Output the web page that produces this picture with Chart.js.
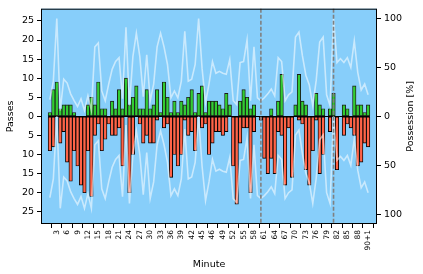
<!DOCTYPE html>
<html>
<head>
<meta charset="utf-8">
<script src="https://cdn.jsdelivr.net/npm/chart.js@4.4.0/dist/chart.umd.min.js"></script>
<style>
  html, body { margin: 0; padding: 0; background: #fff; }
  #wrap { width: 423px; height: 274px; }
</style>
</head>
<body>
<div id="wrap"><canvas id="passChart" width="423" height="274"></canvas></div>
<script>
// Minute labels (first half stoppage 45+1, 45+2; second half stoppage 90+1)
const minutes = [
    "1", "2", "3", "4", "5", "6", "7", "8", "9", "10", "11", "12", "13", "14", "15",
    "16", "17", "18", "19", "20", "21", "22", "23", "24", "25", "26", "27", "28", "29", "30",
    "31", "32", "33", "34", "35", "36", "37", "38", "39", "40", "41", "42", "43", "44", "45",
    "45+1", "45+2",
    "46", "47", "48", "49", "50", "51", "52", "53", "54", "55", "56", "57", "58", "59", "60",
    "61", "62", "63", "64", "65", "66", "67", "68", "69", "70", "71", "72", "73", "74", "75",
    "76", "77", "78", "79", "80", "81", "82", "83", "84", "85", "86", "87", "88", "89", "90",
    "90+1"
];
const tickLabels = ["3", "6", "9", "12", "15", "18", "21", "24", "27", "30", "33", "36", "39", "42", "45",
    "46", "49", "52", "55", "58", "61", "64", "67", "70", "73", "76", "79", "82", "85", "88", "90+1"];

// Passes per minute, home team (green, up)
const homePasses = [
    1, 7, 9, 2, 3, 3, 3, 1, 0, 0, 0, 3, 5, 3, 9, 2, 2, 0, 4, 2,
    7, 2, 10, 3, 5, 8, 2, 2, 7, 2, 3, 7, 1, 9, 5, 1, 4, 1, 4, 3,
    5, 7, 1, 6, 8, 1, 4, 4, 4, 3, 2, 6, 3, 0, 0, 4, 7, 5, 2, 3,
    0, 0, 0, 0, 2, 0, 4, 11, 0, 0, 0, 3, 11, 4, 3, 0, 0, 6, 3, 2,
    0, 2, 6, 0, 0, 3, 2, 0, 8, 3, 3, 1, 3
];
// Passes per minute, away team (red, down)
const awayPasses = [
    9, 8, 0, 7, 4, 12, 17, 9, 13, 18, 20, 9, 21, 5, 2, 9, 6, 2, 5, 5,
    3, 13, 0, 20, 10, 0, 2, 7, 5, 7, 7, 1, 0, 3, 2, 16, 10, 13, 10, 1,
    5, 4, 9, 0, 3, 2, 10, 7, 4, 4, 5, 4, 0, 13, 23, 7, 3, 3, 20, 4,
    0, 1, 11, 15, 11, 15, 4, 5, 18, 3, 16, 0, 1, 2, 14, 18, 9, 1, 15, 10,
    0, 4, 0, 14, 0, 5, 2, 3, 5, 13, 12, 7, 8
];
// Home possession per minute [%]
const homePossession = [
    17, 36, 100, 6, 38, 34, 23, 16, 10, 18, 6, 21, 6, 71, 75, 26, 16, 33, 48, 56,
    60, 18, 91, 11, 61, 85, 61, 20, 63, 16, 33, 71, 85, 71, 53, 19, 26, 19, 36, 87,
    36, 38, 53, 100, 49, 14, 33, 56, 44, 46, 44, 43, 58, 16, 12, 55, 56, 78, 16, 71,
    19, 16, 19, 23, 28, 21, 60, 56, 16, 22, 25, 81, 86, 62, 42, 32, 11, 37, 76, 81,
    22, 11, 100, 55, 59, 55, 60, 50, 77, 45, 27, 33, 22
];
const awayPossession = homePossession.map(v => 100 - v);

// Substitution minutes (dashed lines)
const subMinutes = ["60", "81"];

const FONT = "'DejaVu Sans', sans-serif";
const plotBg = "#87CEFA";

const toXY = (arr, sign) => arr.map((v, i) => ({ x: i, y: sign * v }));

const framePlugin = {
    id: "frame",
    beforeDraw(chart) {
        const { ctx, chartArea: a } = chart;
        ctx.save();
        ctx.fillStyle = plotBg;
        ctx.fillRect(a.left, a.top, a.right - a.left, a.bottom - a.top);
        ctx.restore();
    },
    beforeDatasetsDraw(chart) {
        // zero-height bars still leave their edge on the baseline
        const { ctx, scales } = chart;
        const y0 = Math.round(scales.y.getPixelForValue(0)) + 0.5;
        ctx.save();
        ctx.strokeStyle = "#000";
        ctx.lineWidth = 1;
        ctx.beginPath();
        ctx.moveTo(scales.x.getPixelForValue(-0.5), y0);
        ctx.lineTo(scales.x.getPixelForValue(minutes.length - 0.5), y0);
        ctx.stroke();
        ctx.restore();
    },
    afterDatasetsDraw(chart) {
        const { ctx, chartArea: a, scales } = chart;
        ctx.save();
        ctx.strokeStyle = "#808080";
        ctx.lineWidth = 1.6;
        ctx.setLineDash([4, 2]);
        subMinutes.forEach(m => {
            const x = scales.x.getPixelForValue(minutes.indexOf(m));
            ctx.beginPath();
            ctx.moveTo(x, a.top);
            ctx.lineTo(x, a.bottom);
            ctx.stroke();
        });
        ctx.setLineDash([]);
        ctx.strokeStyle = "#000";
        ctx.lineWidth = 1;
        ctx.strokeRect(a.left + 0.5, a.top + 0.5, a.right - a.left - 1, a.bottom - a.top - 1);
        ctx.restore();
    },
    afterDraw(chart) {
        const { ctx, chartArea: a } = chart;
        const midY = (a.top + a.bottom) / 2;
        ctx.save();
        ctx.fillStyle = "#000";
        ctx.font = "9.5px " + FONT;
        ctx.textAlign = "center";
        ctx.textBaseline = "middle";
        ctx.fillText("Minute", (a.left + a.right) / 2, 265);
        ctx.translate(11, midY);
        ctx.rotate(-Math.PI / 2);
        ctx.fillText("Passes", 0, 0);
        ctx.restore();
        ctx.save();
        ctx.fillStyle = "#000";
        ctx.font = "9.5px " + FONT;
        ctx.textAlign = "center";
        ctx.textBaseline = "middle";
        ctx.translate(411, midY);
        ctx.rotate(-Math.PI / 2);
        ctx.fillText("Possession [%]", 0, 0);
        ctx.restore();
    }
};

const axisGrid = {
    display: true,
    drawOnChartArea: false,
    drawTicks: true,
    tickLength: 4,
    color: "#000"
};

new Chart(document.getElementById("passChart").getContext("2d"), {
    type: "bar",
    data: {
        datasets: [
            {
                type: "line",
                data: toXY(homePossession, 1),
                yAxisID: "y2",
                borderColor: "rgba(255,255,255,0.55)",
                borderWidth: 1.6,
                pointRadius: 0,
                tension: 0,
                order: 0
            },
            {
                type: "line",
                data: toXY(awayPossession, -1),
                yAxisID: "y2",
                borderColor: "rgba(255,255,255,0.55)",
                borderWidth: 1.6,
                pointRadius: 0,
                tension: 0,
                order: 0
            },
            {
                data: toXY(homePasses, 1),
                yAxisID: "y",
                backgroundColor: "#32CD32",
                borderColor: "#1a1a1a",
                borderWidth: 0.9,
                borderSkipped: false,
                grouped: false,
                barPercentage: 1,
                categoryPercentage: 1,
                order: 1
            },
            {
                data: toXY(awayPasses, -1),
                yAxisID: "y",
                backgroundColor: "#FF6347",
                borderColor: "#000",
                borderWidth: 0.9,
                borderSkipped: false,
                grouped: false,
                barPercentage: 1,
                categoryPercentage: 1,
                order: 1
            }
        ]
    },
    options: {
        responsive: false,
        animation: false,
        layout: { padding: { top: 6, left: 0, right: 0, bottom: 0 } },
        plugins: {
            legend: { display: false },
            tooltip: { enabled: false }
        },
        scales: {
            x: {
                type: "linear",
                min: -1,
                max: minutes.length,
                grid: axisGrid,
                border: { display: false },
                afterBuildTicks: s => { s.ticks = tickLabels.map(l => ({ value: minutes.indexOf(l) })); },
                afterFit: s => { s.height = 50; },
                ticks: {
                    autoSkip: false,
                    minRotation: 90,
                    maxRotation: 90,
                    padding: 2,
                    color: "#000",
                    font: { family: FONT, size: 7.5 },
                    callback: v => minutes[v]
                }
            },
            y: {
                position: "left",
                min: -28.2,
                max: 28.2,
                grid: axisGrid,
                border: { display: false },
                afterBuildTicks: s => { s.ticks = [-25, -20, -15, -10, -5, 0, 5, 10, 15, 20, 25].map(v => ({ value: v })); },
                afterFit: s => { s.width = 41; },
                ticks: {
                    padding: 3,
                    color: "#000",
                    font: { family: FONT, size: 9.5 },
                    callback: v => Math.abs(v)
                }
            },
            y2: {
                position: "right",
                min: -110,
                max: 110,
                grid: axisGrid,
                border: { display: false },
                afterBuildTicks: s => { s.ticks = [-100, -50, 0, 50, 100].map(v => ({ value: v })); },
                afterFit: s => { s.width = 46; },
                ticks: {
                    padding: 3,
                    color: "#000",
                    font: { family: FONT, size: 9.5 },
                    callback: v => Math.abs(v)
                }
            }
        }
    },
    plugins: [framePlugin]
});
</script>
</body>
</html>
